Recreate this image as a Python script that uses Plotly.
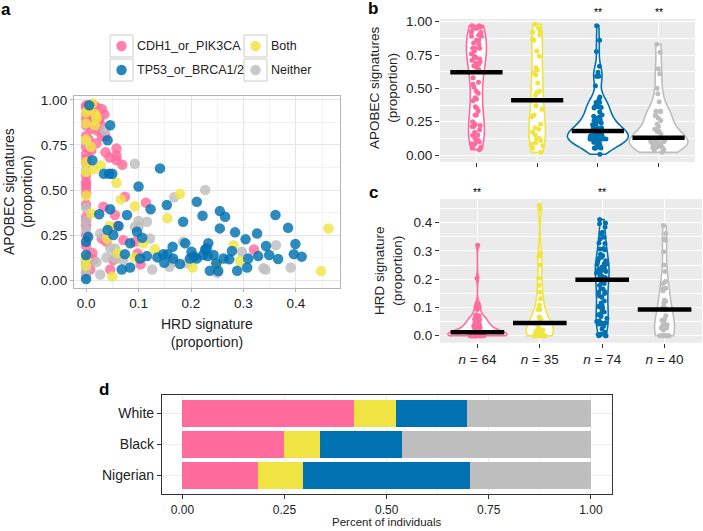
import numpy as np
import plotly.graph_objects as go

W, H = 703, 531
def fx(p):
    return p / W
def fy(p):
    return 1 - p / H

FONT = "Liberation Sans, Arial, Helvetica, sans-serif"

# ---------------- data ----------------
groups = ["CDH1_or_PIK3CA", "Both", "TP53_or_BRCA1/2", "Neither"]
colors = ["#FF6B9D", "#F0E442", "#0072B2", "#BEBEBE"]

cdh1_hrd = [0.0, 0.005, 0.02, 0.03, 0.0, 0.012, 0.025, 0.0, 0.01, 0.022, 0.0, 0.03, 0.037, 0.0, 0.037, 0.058, 0.058, 0.058, 0.069,
            0.0, 0.01, 0.015, 0.0, 0.035, 0.005, 0.02, 0.0, 0.045, 0.0, 0.01, 0.028, 0.0,
            0.0, 0.0, 0.0, 0.074, 0.114, 0.033, 0.055, 0.0, 0.0, 0.0, 0.071, 0.039, 0.093, 0.098, 0.104, 0.046, 0.014, 0.008, 0.0, 0.0, 0.052, 0.32, 0.203,
            0.0, 0.0, 0.0, 0.0, 0.0, 0.06, 0.012, 0.0, 0.03]
cdh1_apobec = [0.96, 0.95, 0.96, 0.95, 0.92, 0.90, 0.89, 0.86, 0.84, 0.83, 0.80, 0.80, 0.80, 0.74, 0.71, 0.73, 0.69, 0.665, 0.64,
               0.97, 0.93, 0.97, 0.89, 0.92, 0.78, 0.76, 0.70, 0.68, 0.67, 0.72, 0.86, 0.65,
               0.545, 0.53, 0.51, 0.463, 0.43, 0.407, 0.361, 0.35, 0.33, 0.30, 0.222, 0.213, 0.213, 0.148, 0.087, 0.059, 0.111, 0.059, 0.10, 0.085, 0.111, 0.17, 0.13,
               0.58, 0.48, 0.42, 0.25, 0.19, 0.30, 0.15, 0.04, 0.23]

both_hrd = [0.012, 0.018, 0.0, 0.017, 0.009, 0.0, 0.028, 0.015, 0.058, 0.0, 0.066, 0.179, 0.093, 0.155, 0.462, 0.448, 0.109, 0.131, 0.281, 0.293, 0.203, 0.093, 0.25, 0.04,
            0.005, 0.0, 0.02, 0.0, 0.01, 0.0, 0.05, 0.0, 0.06, 0.045, 0.0]
both_apobec = [0.98, 0.92, 0.87, 0.86, 0.74, 0.655, 0.636, 0.615, 0.54, 0.47, 0.448, 0.478, 0.41, 0.343, 0.287, 0.05, 0.204, 0.172, 0.194, 0.106, 0.07, 0.126, 0.09, 0.23,
               0.95, 0.93, 0.90, 0.78, 0.37, 0.60, 0.02, 0.08, 0.15, 0.30, 0.12]

tp53_hrd = [0.006, 0.046, 0.041, 0.012, 0.141, 0.034, 0.044, 0.05, 0.1, 0.211, 0.123, 0.154, 0.222, 0.255, 0.265, 0.361, 0.385, 0.255, 0.284, 0.326,
            0.304, 0.185, 0.025, 0.046, 0.078, 0.062, 0.097, 0.041, 0.052, 0.107, 0.0, 0.004, 0.084, 0.165, 0.189, 0.201, 0.233, 0.23, 0.278, 0.343,
            0.399, 0.396, 0.411, 0.366, 0.349, 0.328, 0.309, 0.307, 0.288, 0.273, 0.262, 0.252, 0.236, 0.248, 0.243, 0.223, 0.211, 0.198, 0.166, 0.147,
            0.155, 0.149, 0.136, 0.116, 0.103, 0.084, 0.068, 0.074, 0.0, 0.0, 0.179, 0.227, 0.232, 0.206]
tp53_apobec = [0.97, 0.86, 0.776, 0.665, 0.62, 0.59, 0.59, 0.59, 0.52, 0.435, 0.393, 0.417, 0.357, 0.383, 0.352, 0.361, 0.29, 0.287, 0.265, 0.259,
               0.226, 0.324, 0.365, 0.393, 0.361, 0.30, 0.268, 0.278, 0.25, 0.235, 0.213, 0.24, 0.204, 0.185, 0.204, 0.157, 0.204, 0.176, 0.161, 0.189,
               0.2, 0.144, 0.13, 0.117, 0.139, 0.133, 0.12, 0.07, 0.052, 0.115, 0.12, 0.05, 0.052, 0.093, 0.139, 0.139, 0.12, 0.12, 0.12, 0.144,
               0.144, 0.096, 0.126, 0.133, 0.12, 0.07, 0.059, 0.144, 0.139, 0.006, 0.089, 0.17, 0.133, 0.13]

neither_hrd = [0.036, 0.0, 0.093, 0.0, 0.168, 0.227, 0.116, 0.093, 0.1, 0.027, 0.122, 0.0, 0.046, 0.055, 0.192, 0.166, 0.159, 0.126, 0.297, 0.362,
               0.338, 0.342, 0.39, 0.027, 0.0, 0.058, 0.071, 0.0, 0.0,
               0.0, 0.039, 0.055, 0.0, 0.1, 0.185, 0.0, 0.0, 0.02, 0.25, 0.0]
neither_apobec = [0.83, 0.77, 0.646, 0.61, 0.46, 0.50, 0.324, 0.296, 0.296, 0.259, 0.231, 0.278, 0.176, 0.176, 0.093, 0.102, 0.074, 0.059, 0.157, 0.194,
                  0.065, 0.059, 0.07, 0.031, 0.056, 0.12, 0.111, 0.11, 0.09,
                  0.33, 0.125, 0.125, 0.087, 0.328, 0.213, 0.02, 0.115, 0.10, 0.04, 0.40]

hrd_by_group = [cdh1_hrd, both_hrd, tp53_hrd, neither_hrd]
apobec_by_group = [cdh1_apobec, both_apobec, tp53_apobec, neither_apobec]

apobec_medians = [0.62, 0.41, 0.18, 0.13]
hrd_medians = [0.012, 0.045, 0.198, 0.093]
apobec_stars = ["", "", "**", "**"]
hrd_stars = ["**", "", "**", ""]

populations = ["White", "Black", "Nigerian"]
pop_fractions = {
    "CDH1_or_PIK3CA": [0.419, 0.249, 0.184],
    "Both": [0.103, 0.088, 0.111],
    "TP53_or_BRCA1/2": [0.174, 0.200, 0.408],
    "Neither": [0.304, 0.463, 0.297],
}

# -------------- styling (not data) --------------
b_widths = [0.33, 0.27, 1.0, 0.96]
b_jitter = [0.75, 0.9, 0.3, 0.32]
c_widths = [0.95, 0.43, 0.22, 0.32]
c_jitter = [0.25, 0.5, 1.0, 0.6]
draw_order = [0, 3, 1, 2]


def nrd0(v):
    v = np.asarray(v, dtype=float)
    sd = v.std(ddof=1)
    iqr = np.subtract(*np.percentile(v, [75, 25]))
    lo = min(sd, iqr / 1.34) if iqr > 0 else sd
    return 0.9 * lo * len(v) ** -0.2


fig = go.Figure()

# ---- panel a: scatter ----
for i in draw_order:
    fig.add_trace(go.Scatter(
        x=hrd_by_group[i], y=apobec_by_group[i], mode="markers", xaxis="x", yaxis="y",
        marker=dict(color=colors[i], size=10.5, opacity=0.82, line=dict(width=0)),
        name=groups[i], showlegend=False, hoverinfo="skip"))

# ---- panel b & c: violins ----
for panel, data, widths, jit, meds, xa, ya in [
        ("b", apobec_by_group, b_widths, b_jitter, apobec_medians, "x2", "y2"),
        ("c", hrd_by_group, c_widths, c_jitter, hrd_medians, "x3", "y3")]:
    for i in range(4):
        vals = data[i]
        fig.add_trace(go.Violin(
            x=[i + 1] * len(vals), y=vals, xaxis=xa, yaxis=ya,
            line=dict(color=colors[i], width=1.6), fillcolor="white",
            points="all", pointpos=0, jitter=jit[i],
            marker=dict(color=colors[i], size=5, line=dict(width=0)),
            spanmode="hard", width=widths[i], scalemode="width",
            bandwidth=nrd0(vals), box_visible=False, meanline_visible=False,
            name=groups[i], showlegend=False, hoverinfo="skip"))
    mx, my = [], []
    for i, m in enumerate(meds):
        mx += [i + 1 - 0.43, i + 1 + 0.43, None]
        my += [m, m, None]
    fig.add_trace(go.Scatter(x=mx, y=my, mode="lines", xaxis=xa, yaxis=ya,
                             line=dict(color="black", width=4.5),
                             showlegend=False, hoverinfo="skip"))

# ---- panel d: stacked bars ----
for i, g in enumerate(groups):
    fig.add_trace(go.Bar(
        y=populations, x=pop_fractions[g], orientation="h", xaxis="x4", yaxis="y4",
        marker=dict(color=colors[i], line=dict(width=0)), name=g,
        showlegend=False, hoverinfo="skip"))

TICKFONT = dict(family=FONT, size=13.5, color="#222")
common = dict(automargin=False, zeroline=False)

fig.update_layout(
    template="none",
    width=W, height=H, margin=dict(l=0, r=0, t=0, b=0, pad=0, autoexpand=False),
    paper_bgcolor="white", plot_bgcolor="white",
    font=dict(family=FONT, color="#222"),
    barmode="stack", bargap=0.12, violinmode="overlay",
    xaxis=dict(domain=[fx(74), fx(340)], anchor="y", range=[-0.023, 0.484],
               tickvals=[0, 0.1, 0.2, 0.3, 0.4], ticktext=["0.0", "0.1", "0.2", "0.3", "0.4"],
               showgrid=True, gridcolor="#E6E6E6", gridwidth=0.8,
               minor=dict(showgrid=True, gridcolor="#F2F2F2", gridwidth=0.6, dtick=0.05, tick0=0),
               showline=True, linecolor="#B3B3B3", linewidth=1.3, mirror=True,
               ticks="outside", ticklen=3, tickcolor="#B3B3B3", tickfont=TICKFONT, **common),
    yaxis=dict(domain=[fy(288), fy(96)], anchor="x", range=[-0.044, 1.022],
               tickvals=[0, 0.25, 0.5, 0.75, 1.0], ticktext=["0.00", "0.25", "0.50", "0.75", "1.00"],
               showgrid=True, gridcolor="#E6E6E6", gridwidth=0.8,
               minor=dict(showgrid=True, gridcolor="#F2F2F2", gridwidth=0.6, dtick=0.125, tick0=0),
               showline=True, linecolor="#B3B3B3", linewidth=1.3, mirror=True,
               ticks="outside", ticklen=3, tickcolor="#B3B3B3", tickfont=TICKFONT, **common),
    xaxis2=dict(domain=[fx(440), fx(695)], anchor="y2", range=[0.4, 4.6], type="linear",
                tickvals=[1, 2, 3, 4], ticktext=["", "", "", ""],
                showgrid=True, gridcolor="white", gridwidth=1.2,
                showline=False, ticks="outside", ticklen=4, tickcolor="#333",
                tickfont=TICKFONT, **common),
    yaxis2=dict(domain=[fy(162), fy(19)], anchor="x2", range=[-0.0525, 1.02],
                tickvals=[0, 0.25, 0.5, 0.75, 1.0], ticktext=["0.00", "0.25", "0.50", "0.75", "1.00"],
                showgrid=True, gridcolor="white", gridwidth=1.2,
                minor=dict(showgrid=True, gridcolor="white", gridwidth=0.5, dtick=0.125, tick0=0),
                showline=False, ticks="outside", ticklen=4, tickcolor="#333",
                tickfont=TICKFONT, **common),
    xaxis3=dict(domain=[fx(440), fx(702)], anchor="y3", range=[0.4, 4.6], type="linear",
                tickvals=[1, 2, 3, 4],
                ticktext=["<i>n</i> = %d" % len(v) for v in hrd_by_group],
                showgrid=True, gridcolor="white", gridwidth=1.2,
                showline=False, ticks="outside", ticklen=4, tickcolor="#333",
                tickfont=TICKFONT, **common),
    yaxis3=dict(domain=[fy(342.7), fy(199)], anchor="x3", range=[-0.0248, 0.484],
                tickvals=[0, 0.1, 0.2, 0.3, 0.4], ticktext=["0.0", "0.1", "0.2", "0.3", "0.4"],
                showgrid=True, gridcolor="white", gridwidth=1.2,
                minor=dict(showgrid=True, gridcolor="white", gridwidth=0.5, dtick=0.05, tick0=0),
                showline=False, ticks="outside", ticklen=4, tickcolor="#333",
                tickfont=TICKFONT, **common),
    xaxis4=dict(domain=[fx(162), fx(611.7)], anchor="y4", range=[-0.05, 1.051],
                tickvals=[0, 0.25, 0.5, 0.75, 1.0], ticktext=["0.00", "0.25", "0.50", "0.75", "1.00"],
                showgrid=True, gridcolor="#EBEBEB", gridwidth=0.8,
                minor=dict(showgrid=True, gridcolor="#F3F3F3", gridwidth=0.5, dtick=0.125, tick0=0),
                showline=True, linecolor="#333", linewidth=1.2, mirror=True,
                ticks="outside", ticklen=4, tickcolor="#333",
                tickfont=dict(family=FONT, size=12, color="#222"), **common),
    yaxis4=dict(domain=[fy(494), fy(395)], anchor="x4", type="category",
                categoryorder="array", categoryarray=populations[::-1], range=[-0.6, 2.6],
                showgrid=True, gridcolor="#EBEBEB", gridwidth=0.8,
                showline=True, linecolor="#333", linewidth=1.2, mirror=True,
                ticks="outside", ticklen=4, tickcolor="#333",
                tickfont=dict(family=FONT, size=14, color="#222"), **common),
)

shapes = []
for xa, ya in [("x2", "y2"), ("x3", "y3")]:
    shapes.append(dict(type="rect", xref=xa + " domain", yref=ya + " domain", x0=0, x1=1, y0=0, y1=1,
                       fillcolor="#EBEBEB", line=dict(width=0), layer="below"))

annotations = []
# legend (manual 2x2 layout)
legend_pos = [(110, 35, 135), (244, 35, 269), (110, 59, 135), (244, 59, 269)]
legend_order = [0, 1, 2, 3]
for k, gi in enumerate(legend_order):
    bx, by, tx = legend_pos[k]
    shapes.append(dict(type="rect", xref="paper", yref="paper", x0=fx(bx), x1=fx(bx + 23),
                       y0=fy(by + 22), y1=fy(by), fillcolor="white",
                       line=dict(color="#CCCCCC", width=1), layer="above"))
    cx, cy, r = bx + 11.5, by + 11, 5.2
    shapes.append(dict(type="circle", xref="paper", yref="paper", x0=fx(cx - r), x1=fx(cx + r),
                       y0=fy(cy + r), y1=fy(cy - r), fillcolor=colors[gi], opacity=0.85,
                       line=dict(width=0), layer="above"))
    annotations.append(dict(text=groups[gi], xref="paper", yref="paper", x=fx(tx), y=fy(cy),
                            xanchor="left", yanchor="middle", showarrow=False,
                            font=dict(family=FONT, size=12.5, color="#222")))

# panel letters
for t, x, y in [("a", 6, 10), ("b", 373, 9), ("c", 373, 192), ("d", 104, 389)]:
    annotations.append(dict(text="<b>%s</b>" % t, xref="paper", yref="paper", x=fx(x), y=fy(y),
                            xanchor="center", yanchor="middle", showarrow=False,
                            font=dict(family=FONT, size=17, color="black")))

# axis titles
def title(text, x, y, angle=0, size=13.5):
    annotations.append(dict(text=text, xref="paper", yref="paper", x=fx(x), y=fy(y),
                            xanchor="center", yanchor="middle", showarrow=False, textangle=angle,
                            font=dict(family=FONT, size=size, color="#222")))

title("APOBEC signatures<br>(proportion)", 18, 192, -90, 14)
title("HRD signature<br>(proportion)", 207, 333, 0, 14)
title("APOBEC signatures<br>(proportion)", 384, 88, -90)
title("HRD signature<br>(proportion)", 388, 271, -90)
title("Percent of individuals", 386.5, 522, 0, 11.5)

# significance stars
for stars, xa, ypix in [(apobec_stars, "x2", 12), (hrd_stars, "x3", 192)]:
    for i, s in enumerate(stars):
        if s:
            annotations.append(dict(text=s, xref=xa, yref="paper", x=i + 1, y=fy(ypix),
                                    xanchor="center", yanchor="middle", showarrow=False,
                                    font=dict(family=FONT, size=10.5, color="black")))

fig.update_layout(shapes=shapes, annotations=annotations)
fig.write_html("out.html", config={"displayModeBar": False},
               post_script="document.body.style.margin='0';document.body.style.overflow='hidden';")
